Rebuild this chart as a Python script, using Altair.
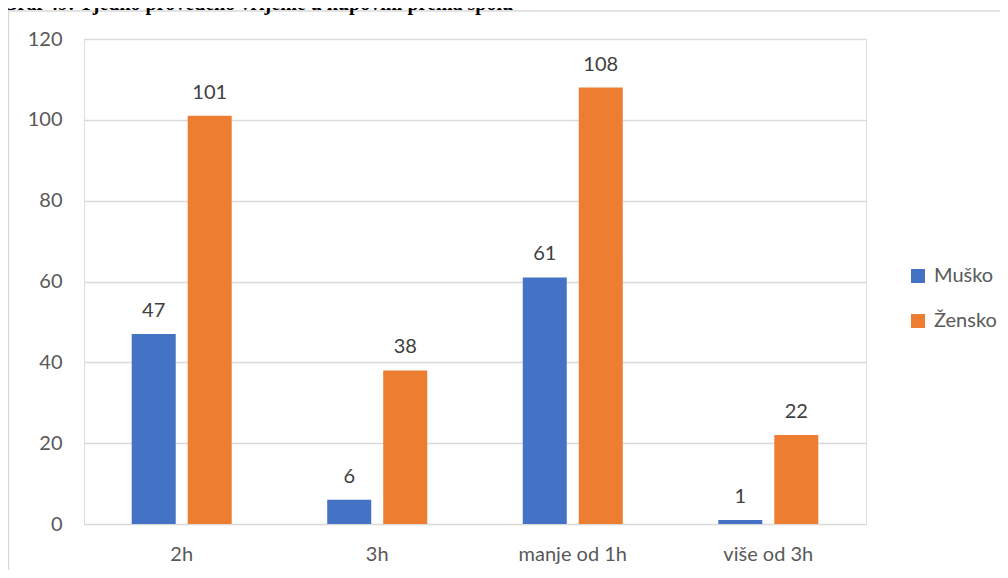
import altair as alt
import pandas as pd

categories = ["2h", "3h", "manje od 1h", "više od 3h"]
musko = [47, 6, 61, 1]
zensko = [101, 38, 108, 22]
series = ["Muško", "Žensko"]
colors = ["#4472C4", "#ED7D31"]
y_ticks = [0, 20, 40, 60, 80, 100, 120]
title_text = "Graf 49: Tjedno provedeno vrijeme u kupovini prema spolu"

rows = []
for c, m, z in zip(categories, musko, zensko):
    rows.append({"cat": c, "spol": series[0], "val": m})
    rows.append({"cat": c, "spol": series[1], "val": z})
df = pd.DataFrame(rows)

FONT = "Lato"
GRAY = "#595959"
GRID = "#d9d9d9"

base = alt.Chart(df).encode(
    x=alt.X(
        "cat:N",
        sort=categories,
        scale=alt.Scale(paddingInner=0.4885, paddingOuter=0.244),
        axis=alt.Axis(
            title=None, labelAngle=0, ticks=False, domain=False,
            labelPadding=20, labelFont=FONT, labelFontSize=20, labelColor=GRAY,
        ),
    ),
    xOffset=alt.XOffset("spol:N", sort=series,
                        scale=alt.Scale(paddingInner=0.214, paddingOuter=0)),
    y=alt.Y(
        "val:Q",
        scale=alt.Scale(domain=[0, 120], nice=False),
        axis=alt.Axis(
            title=None, values=y_ticks, ticks=False, domain=False,
            labelPadding=22, labelFont=FONT, labelFontSize=20, labelColor=GRAY,
            gridColor=GRID, gridWidth=1.3,
        ),
    ),
)

bars = base.mark_bar().encode(
    color=alt.Color(
        "spol:N",
        scale=alt.Scale(domain=series, range=colors),
        legend=alt.Legend(
            title=None, orient="none", legendX=824, legendY=227,
            direction="vertical", symbolType="square", symbolSize=196,
            symbolStrokeWidth=0, symbolOpacity=1, labelFont=FONT,
            labelFontSize=20, labelColor=GRAY, labelOffset=6,
            rowPadding=25, padding=0,
        ),
    )
)

labels = base.mark_text(
    dy=-17, baseline="alphabetic", font=FONT, fontSize=20, color="#404040"
).encode(text="val:Q")

deco = pd.DataFrame({"k": [0]})
frame_top = alt.Chart(deco).mark_rule(color=GRID, strokeWidth=1.5).encode(
    x=alt.value(-76), x2=alt.value(940), y=alt.value(-28)
)
frame_left = alt.Chart(deco).mark_rule(color=GRID, strokeWidth=1.5).encode(
    x=alt.value(-75.5), y=alt.value(-28), y2=alt.value(560)
)
title = alt.Chart(deco).mark_text(
    font="Liberation Serif", fontWeight="bold", fontSize=20,
    align="left", baseline="alphabetic", color="#000000",
).encode(x=alt.value(-82), y=alt.value(-29), text=alt.value(title_text))

chart = alt.layer(frame_top, frame_left, title, bars, labels).properties(
    width=782, height=485,
    padding={"left": 76, "top": 31, "right": 134, "bottom": 46},
    autosize=alt.AutoSizeParams(type="none"),
).configure_view(stroke=None).configure(background="#ffffff")

chart.save("out.html", embed_options={"renderer": "svg", "actions": False})
